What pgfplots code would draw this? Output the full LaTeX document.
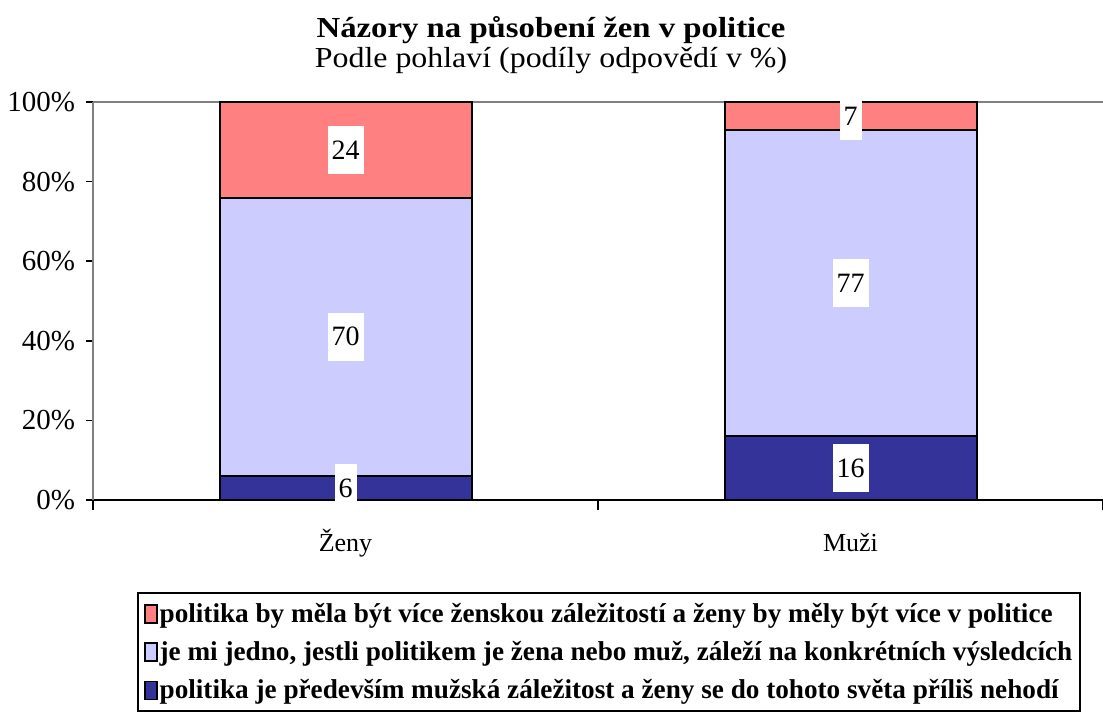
\documentclass[border=0pt]{standalone}
\usepackage{pgfplots}
\pgfplotsset{compat=1.18}
\usepackage{fontspec}
\setmainfont{Liberation Serif}

\definecolor{cRed}{HTML}{FF8080}
\definecolor{cLav}{HTML}{CCCCFF}
\definecolor{cBlue}{HTML}{333399}

\begin{document}
\begin{tikzpicture}
\useasboundingbox (0,0) rectangle (551.5pt,359pt);
\begin{axis}[
    at={(46.5pt,109pt)}, anchor=south west,
    scale only axis, width=505pt, height=199pt,
    ybar stacked, bar width=126pt,
    xmin=-0.5, xmax=1.5, ymin=0, ymax=100,
    xtick={0,1}, xticklabels={Ženy,Muži},
    minor xtick={-0.5,0.5,1.5},
    ytick={0,20,40,60,80,100},
    yticklabels={0\%,20\%,40\%,60\%,80\%,100\%},
    /pgf/number format/assume math mode=true,
    tick align=outside,
    xtick pos=bottom, ytick pos=left,
    major x tick style={draw=none},
    minor tick length=5pt, major tick length=3.5pt,
    tick style={black, line width=0.8pt},
    axis x line*=bottom, axis y line*=left,
    x axis line style={-, black, line width=1.2pt},
    y axis line style={-, gray, line width=1pt},
    extra y ticks={100}, extra y tick labels={},
    extra y tick style={grid=major, major grid style={gray, line width=1pt}, tick style={draw=none}},
    yticklabel style={font=\fontsize{14.5}{16}\selectfont, xshift=-2pt},
    xticklabel style={font=\fontsize{13}{15}\selectfont, anchor=base, yshift=-22pt},
    point meta=explicit symbolic,
    nodes near coords={\pgfplotspointmeta},
    every node near coord/.append style={fill=white, inner xsep=2pt, minimum height=24pt,
        anchor=center, font=\fontsize{14}{16}\selectfont},
    reverse legend,
    legend cell align=left,
    legend style={at={(0.0436,-0.231)}, anchor=north west, draw=black, line width=1pt,
        font=\fontsize{13.6}{16}\selectfont\bfseries, row sep=4pt, inner sep=3pt,
        nodes={inner xsep=1pt}},
    area legend,
    legend image code/.code={\draw[#1, line width=0.8pt] (0pt,-4.5pt) rectangle (6pt,4.5pt);},
]
\addplot[fill=cBlue, draw=black, line width=1pt] coordinates {(0,6) [6] (1,16) [16]};
\addlegendentry{politika je především mužská záležitost a ženy se do tohoto světa příliš nehodí}
\addplot[fill=cLav, draw=black, line width=1pt] coordinates {(0,70) [70] (1,77) [77]};
\addlegendentry{je mi jedno, jestli politikem je žena nebo muž, záleží na konkrétních výsledcích}
\addplot[fill=cRed, draw=black, line width=1pt] coordinates {(0,24) [24] (1,7) [7]};
\addlegendentry{politika by měla být více ženskou záležitostí a ženy by měly být více v politice}
\end{axis}
% chart title and subtitle
\node[anchor=base, xscale=1.13, transform shape, font=\fontsize{14.5}{16}\selectfont\bfseries]
    at (275.5pt,340pt) {Názory na působení žen v politice};
\node[anchor=base, xscale=1.10, transform shape, font=\fontsize{14.5}{16}\selectfont]
    at (275.5pt,325pt) {Podle pohlaví (podíly odpovědí v \%)};
\end{tikzpicture}
\end{document}
